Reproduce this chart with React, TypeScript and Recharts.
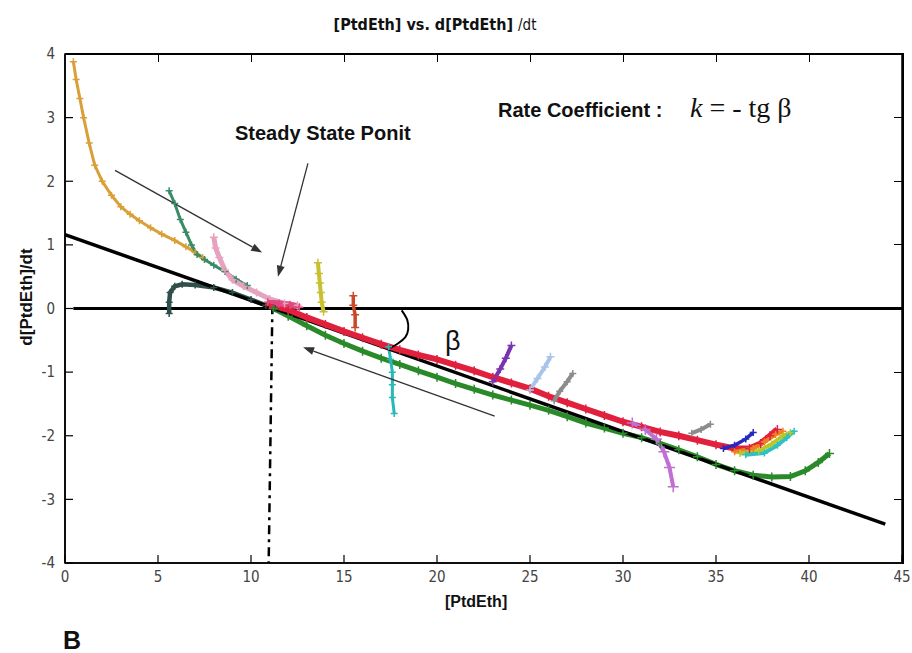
import React from 'react';
import { ComposedChart, Line, XAxis, YAxis, ReferenceLine, ReferenceArea } from 'recharts';

type Pt = [number, number];

const xTicks = [0, 5, 10, 15, 20, 25, 30, 35, 40, 45];
const yTicks = [-4, -3, -2, -1, 0, 1, 2, 3, 4];

// runs, [PtdEth] -> d[PtdEth]/dt
const goldPts: Pt[] = [
  [0.45, 3.88], [0.6, 3.6], [0.8, 3.3], [1.0, 3.0], [1.3, 2.6], [1.6, 2.25], [2.0, 2.0],
  [2.5, 1.78], [3.0, 1.6], [3.5, 1.48], [4.0, 1.38], [4.6, 1.27], [5.2, 1.17], [5.9, 1.07],
  [6.5, 0.97], [7.0, 0.88], [7.4, 0.8],
];
const tealPts: Pt[] = [
  [5.6, 1.85], [5.9, 1.65], [6.2, 1.4], [6.5, 1.2], [6.8, 1.0], [7.1, 0.85], [7.5, 0.77],
  [8.0, 0.68], [8.6, 0.58], [9.2, 0.46], [9.8, 0.36],
];
const pinkPts: Pt[] = [
  [8.0, 1.12], [8.1, 0.95], [8.3, 0.8], [8.6, 0.6], [9.0, 0.45], [9.6, 0.35], [10.3, 0.25],
  [11.0, 0.15], [11.8, 0.08], [12.5, 0.05],
];
const slatePts: Pt[] = [
  [5.6, -0.08], [5.6, 0.1], [5.65, 0.25], [5.9, 0.35], [6.3, 0.38], [7.0, 0.37], [8.0, 0.33],
  [9.0, 0.25], [10.0, 0.14], [10.8, 0.05], [11.3, 0.0],
];
const greenPts: Pt[] = [
  [11.2, 0.0], [12, -0.12], [13, -0.27], [14, -0.42], [15, -0.55], [16, -0.67], [17, -0.78],
  [18, -0.88], [19, -0.98], [20, -1.08], [21, -1.18], [22, -1.27], [23, -1.36], [24, -1.44],
  [25, -1.52], [26, -1.6], [27, -1.7], [28, -1.8], [29, -1.88], [30, -1.96], [31, -2.03],
  [32, -2.12], [33, -2.22], [34, -2.33], [35, -2.45], [36, -2.55], [37, -2.62], [38, -2.65],
  [39, -2.64], [39.8, -2.55], [40.5, -2.42], [41.1, -2.28],
];
const redPts: Pt[] = [
  [11.0, 0.06], [12, -0.02], [13, -0.14], [14, -0.25], [15, -0.36], [16, -0.46], [17, -0.56],
  [18, -0.65], [19, -0.73], [20, -0.8], [21, -0.89], [22, -0.98], [23, -1.08], [24, -1.17],
  [25, -1.26], [26, -1.38], [27, -1.48], [28, -1.58], [29, -1.68], [30, -1.78], [31, -1.86],
  [32, -1.94], [33, -2.0], [34, -2.07], [35, -2.14], [36, -2.2], [36.8, -2.2], [37.4, -2.12],
  [37.9, -2.0], [38.3, -1.9],
];
const magentaPts: Pt[] = [[10.9, 0.1], [11.5, 0.08], [12.1, 0.06], [12.6, 0.02]];
const yellowPts: Pt[] = [[13.6, 0.72], [13.65, 0.55], [13.7, 0.4], [13.75, 0.25], [13.8, 0.1], [13.9, -0.05]];
const brickPts: Pt[] = [[15.5, 0.2], [15.5, 0.05], [15.6, -0.1], [15.6, -0.3]];
const cyanPts: Pt[] = [[17.4, -0.6], [17.5, -0.8], [17.6, -1.0], [17.6, -1.2], [17.6, -1.4], [17.7, -1.65]];
const purplePts: Pt[] = [[23.0, -1.15], [23.4, -0.95], [23.7, -0.78], [24.0, -0.58]];
const skyPts: Pt[] = [[25.0, -1.28], [25.4, -1.1], [25.8, -0.92], [26.1, -0.76]];
const grayPts: Pt[] = [[26.3, -1.45], [26.6, -1.3], [27.0, -1.15], [27.3, -1.02]];
const gray2Pts: Pt[] = [[33.7, -1.96], [34.2, -1.9], [34.7, -1.82]];
const violetPts: Pt[] = [[30.5, -1.8], [31.2, -1.9], [31.8, -2.05], [32.2, -2.25], [32.5, -2.5], [32.7, -2.8]];
const bluePts: Pt[] = [[35.4, -2.2], [36.0, -2.15], [36.6, -2.05], [37.0, -1.95]];
const orangePts: Pt[] = [[36.0, -2.25], [37.0, -2.2], [37.6, -2.1], [38.2, -1.98], [38.6, -1.93]];
const limePts: Pt[] = [[36.3, -2.28], [37.3, -2.24], [38.0, -2.13], [38.6, -2.0], [39.0, -1.95]];
const aquaPts: Pt[] = [[36.6, -2.3], [37.6, -2.27], [38.3, -2.15], [38.8, -2.03], [39.2, -1.93]];

// fitted slope line and the beta bracket
const fitPts: Pt[] = [[0, 1.16], [44.1, -3.39]];
const arcPts: Pt[] = [[18.1, -0.03], [18.4, -0.18], [18.45, -0.33], [18.3, -0.45], [17.9, -0.55], [17.5, -0.62]];

// arrows: [from, to]
const arrows: Pt[][] = [
  [[2.69, 2.17], [10.6, 0.88]],
  [[13.06, 2.28], [11.45, 0.5]],
  [[23.1, -1.69], [12.8, -0.61]],
];

const X_MIN = 0;
const X_MAX = 45;
const Y_MIN = -4;
const Y_MAX = 4;

// plot box (matches the chart margins + axis sizes below)
const W = 912;
const H = 653;
const PLOT_L = 65;
const PLOT_T = 54;
const PLOT_R = W - 10;
const PLOT_B = H - 90;
const TICK = 8;
const px = (x: number) => PLOT_L + ((x - X_MIN) / (X_MAX - X_MIN)) * (PLOT_R - PLOT_L);
const py = (y: number) => PLOT_T + ((Y_MAX - y) / (Y_MAX - Y_MIN)) * (PLOT_B - PLOT_T);

const NARROW = "'Liberation Sans Narrow', 'Arial Narrow', 'DejaVu Sans Condensed', sans-serif";
const SANS = "'Liberation Sans', Arial, sans-serif";
const SERIF = "'Liberation Serif', 'Times New Roman', serif";

const series = [
  { key: 'gold', pts: goldPts, color: '#d9a038', w: 3, r: 3.5 },
  { key: 'teal', pts: tealPts, color: '#3a8c66', w: 3, r: 3.5 },
  { key: 'slate', pts: slatePts, color: '#2f4f4a', w: 4.5, r: 3.5 },
  { key: 'pink', pts: pinkPts, color: '#e6a2be', w: 5, r: 4 },
  { key: 'green', pts: greenPts, color: '#2a8a2a', w: 5, r: 4.5 },
  { key: 'yellow', pts: yellowPts, color: '#c8c030', w: 4, r: 4 },
  { key: 'brick', pts: brickPts, color: '#c84a28', w: 3.5, r: 4 },
  { key: 'cyan', pts: cyanPts, color: '#28b8b8', w: 3, r: 3.5 },
];

const seriesTop = [
  { key: 'red', pts: redPts, color: '#e0203c', w: 6, r: 4.5 },
  { key: 'magenta', pts: magentaPts, color: '#e04880', w: 6, r: 4 },
  { key: 'purple', pts: purplePts, color: '#7a34b0', w: 4, r: 4 },
  { key: 'sky', pts: skyPts, color: '#a8c4e8', w: 4, r: 4 },
  { key: 'gray', pts: grayPts, color: '#8c8c8c', w: 4, r: 3.5 },
  { key: 'gray2', pts: gray2Pts, color: '#8c8c8c', w: 4, r: 3.5 },
  { key: 'violet', pts: violetPts, color: '#c070d0', w: 4, r: 5.5 },
  { key: 'blue', pts: bluePts, color: '#2828c0', w: 3.5, r: 3.5 },
  { key: 'orange', pts: orangePts, color: '#f08020', w: 4, r: 3.5 },
  { key: 'lime', pts: limePts, color: '#b8c828', w: 4, r: 3.5 },
  { key: 'aqua', pts: aquaPts, color: '#30c0c0', w: 4, r: 3.5 },
];

const rows = (pts: Pt[]) => pts.map(([x, y]) => ({ x, y }));

const plusDot = (color: string, r: number) => (props: any) => {
  const { cx, cy, index } = props;
  if (cx == null || cy == null) return <g key={index} />;
  return (
    <path
      key={index}
      d={`M${cx - r},${cy}H${cx + r}M${cx},${cy - r}V${cy + r}`}
      stroke={color}
      strokeWidth={1.5}
      fill="none"
    />
  );
};

const arrowShape = (props: any) => {
  const { x1, y1, x2, y2 } = props;
  const a = Math.atan2(y2 - y1, x2 - x1);
  const len = 11;
  const half = 4;
  const bx = x2 - len * Math.cos(a);
  const by = y2 - len * Math.sin(a);
  const ox = -Math.sin(a) * half;
  const oy = Math.cos(a) * half;
  return (
    <g>
      <line x1={x1} y1={y1} x2={bx} y2={by} stroke="#333" strokeWidth={1.3} />
      <path d={`M${x2},${y2}L${bx + ox},${by + oy}L${bx - ox},${by - oy}Z`} fill="#333" />
    </g>
  );
};

const axisLine = { stroke: '#000', strokeWidth: 1.5 };
const tickLine = { stroke: '#000', strokeWidth: 1.2 };
const tickText = { fill: '#444', fontSize: 15, fontFamily: NARROW };

function renderSeries(list: typeof series) {
  return list.map((s) => (
    <Line
      key={s.key}
      data={rows(s.pts)}
      dataKey="y"
      type="linear"
      stroke={s.color}
      strokeWidth={s.w}
      dot={plusDot(s.color, s.r)}
      activeDot={false}
      legendType="none"
      isAnimationActive={false}
    />
  ));
}

export default function App() {
  return (
    <div style={{ position: 'absolute', left: 0, top: 0, width: W, height: H, background: '#fff' }}>
      <ComposedChart width={W} height={H} margin={{ top: PLOT_T, right: W - PLOT_R, bottom: 0, left: 0 }}>
        <XAxis
          type="number"
          dataKey="x"
          domain={[X_MIN, X_MAX]}
          ticks={xTicks}
          interval={0}
          allowDataOverflow
          height={H - PLOT_B}
          tickSize={-TICK}
          tickMargin={16}
          axisLine={axisLine}
          tickLine={tickLine}
          tick={tickText}
        />
        <YAxis
          type="number"
          domain={[Y_MIN, Y_MAX]}
          ticks={yTicks}
          interval={0}
          allowDataOverflow
          width={PLOT_L}
          tickSize={-TICK}
          tickMargin={18}
          axisLine={axisLine}
          tickLine={tickLine}
          tick={tickText}
        />
        {/* box outline */}
        <ReferenceArea
          x1={X_MIN}
          x2={X_MAX}
          y1={Y_MIN}
          y2={Y_MAX}
          fill="none"
          fillOpacity={0}
          stroke="#000"
          strokeWidth={1.5}
          ifOverflow="visible"
        />
        <ReferenceLine
          segment={[{ x: 0.45, y: 0 }, { x: X_MAX, y: 0 }]}
          stroke="#000"
          strokeWidth={3}
        />
        <ReferenceLine
          segment={[{ x: 11.15, y: 0.05 }, { x: 10.95, y: Y_MIN }]}
          stroke="#000"
          strokeWidth={2.5}
          strokeDasharray="9 5 3 5"
        />
        {renderSeries(series)}
        <Line
          data={rows(fitPts)}
          dataKey="y"
          type="linear"
          stroke="#000"
          strokeWidth={3.5}
          dot={false}
          activeDot={false}
          legendType="none"
          isAnimationActive={false}
        />
        {renderSeries(seriesTop)}
        <Line
          data={rows(arcPts)}
          dataKey="y"
          type="natural"
          stroke="#000"
          strokeWidth={2}
          dot={false}
          activeDot={false}
          legendType="none"
          isAnimationActive={false}
        />
        {arrows.map((a, i) => (
          <ReferenceLine
            key={`arrow-${i}`}
            segment={[{ x: a[0][0], y: a[0][1] }, { x: a[1][0], y: a[1][1] }]}
            shape={arrowShape}
          />
        ))}
      </ComposedChart>
      {/* top and right sides of the MATLAB-style box, as html borders */}
      <div
        style={{
          position: 'absolute',
          left: PLOT_L,
          top: PLOT_T - 1,
          width: PLOT_R - PLOT_L,
          height: PLOT_B - PLOT_T,
          borderTop: '2px solid #000',
          borderRight: '2px solid #000',
          pointerEvents: 'none',
        }}
      />
      {xTicks.slice(1, -1).map((t) => (
        <div
          key={`tt-${t}`}
          style={{ position: 'absolute', left: px(t) - 0.5, top: PLOT_T, width: 1, height: TICK, background: '#000' }}
        />
      ))}
      {yTicks.slice(1, -1).map((t) => (
        <div
          key={`rt-${t}`}
          style={{ position: 'absolute', left: PLOT_R - TICK, top: py(t) - 0.5, width: TICK, height: 1, background: '#000' }}
        />
      ))}
      <svg width={W} height={H} style={{ position: 'absolute', left: 0, top: 0, pointerEvents: 'none' }}>
        <text x={435} y={30} textAnchor="middle" fontFamily={NARROW} fontWeight="bold" fontSize={16} fill="#111">
          [PtdEth] vs. d[PtdEth] <tspan fontWeight="normal" fontSize={15}>/dt</tspan>
        </text>
        <text x={498} y={117} fontFamily={SANS} fontWeight="bold" fontSize={20} fill="#111">
          Rate Coefficient :
        </text>
        <text x={690} y={117} fontFamily={SERIF} fontSize={28} fill="#111">
          <tspan fontStyle="italic">k</tspan> = - tg β
        </text>
        <text x={235} y={140} fontFamily={SANS} fontWeight="bold" fontSize={20} fill="#111">
          Steady State Ponit
        </text>
        <text x={445} y={350} fontFamily={SANS} fontSize={27} fill="#111">
          β
        </text>
        <text x={445} y={607} fontFamily={SANS} fontWeight="bold" fontSize={16} fill="#111">
          [PtdEth]
        </text>
        <text x={63} y={649} fontFamily={SANS} fontWeight="bold" fontSize={25} fill="#111">
          B
        </text>
        <text
          x={32}
          y={297}
          transform="rotate(-90 32 297)"
          textAnchor="middle"
          fontFamily={SANS}
          fontWeight="bold"
          fontSize={17}
          fill="#111"
        >
          d[PtdEth]/dt
        </text>
      </svg>
    </div>
  );
}
